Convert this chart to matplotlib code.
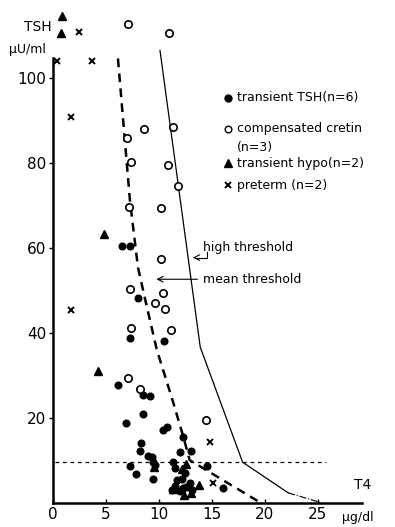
import matplotlib

matplotlib.use("Agg")
import matplotlib.pyplot as plt

# T4 (ug/dl), TSH (uU/ml)
trans_tsh_x = [6.5, 7.26, 8.0, 7.26, 10.5, 6.1, 8.5, 9.15, 8.5, 6.9, 10.4, 10.8, 12.3, 8.3,
               8.2, 12.0, 13.0, 9.3, 9.4, 7.3, 7.8, 9.4, 11.3, 11.5, 14.5, 11.2, 11.7, 12.2,
               11.5, 12.3, 12.0, 12.6, 12.9, 13.1, 12.5, 16.0, 9.0, 9.6]
trans_tsh_y = [60.5, 60.5, 48.4, 38.8, 38.2, 27.8, 25.5, 25.3, 20.9, 18.8, 17.1, 17.8, 15.5, 14.1,
               12.2, 12.0, 12.2, 10.8, 9.6, 8.7, 6.8, 5.6, 9.6, 8.2, 8.6, 3.1, 5.4, 5.6,
               4.0, 3.5, 2.8, 3.8, 4.7, 3.1, 7.0, 3.5, 11.0, 9.0]

cretin_x = [7.08, 10.97, 8.6, 11.3, 7.0, 7.35, 10.87, 11.8, 7.2, 10.2, 10.2, 7.26, 10.4, 9.6,
            10.6, 7.36, 11.1, 7.1, 8.2, 14.4]
cretin_y = [112.9, 110.6, 88.0, 88.5, 85.9, 80.4, 79.6, 74.6, 69.6, 69.4, 57.4, 50.4, 49.4, 47.0,
            45.6, 41.2, 40.7, 29.4, 26.8, 19.6]

hypo_x = [0.85, 0.75, 4.8, 4.25, 9.5, 12.6, 13.8, 13.0, 11.3, 12.4, 12.2]
hypo_y = [114.8, 110.6, 63.3, 31.0, 8.5, 9.2, 4.2, 2.4, 3.3, 1.9, 8.0]

preterm_x = [2.5, 0.4, 3.7, 1.7, 1.7, 14.8, 15.1]
preterm_y = [111.0, 104.2, 104.0, 90.8, 45.4, 14.4, 4.6]

mean_thr_x = [6.13, 7.26, 8.02, 8.87, 9.81, 11.2, 12.26, 12.9, 19.5]
mean_thr_y = [104.7, 71.3, 55.5, 46.1, 36.0, 24.9, 16.0, 10.1, 0.2]

high_thr_x = [10.1, 13.9, 17.9, 22.2]
high_thr_y = [106.6, 36.7, 9.6, 2.4]
high_tail_x = [22.2, 25.4]
high_tail_y = [2.4, 0.0]

cut_tsh = 9.7
yticks = [20, 40, 60, 80, 100]
xticks = [0, 5, 10, 15, 20, 25]

fig = plt.figure(figsize=(3.95, 5.27), dpi=100)
ax = fig.add_axes([53 / 395, 24 / 527, 339 / 395, 501 / 527])
ax.set_xlim(0, 32)
ax.set_ylim(0, 118)

ax.plot(mean_thr_x, mean_thr_y, color="black", lw=1.8, ls=(0, (3.5, 2.5)))
ax.plot(high_thr_x, high_thr_y, color="black", lw=0.9)
ax.plot(high_tail_x, high_tail_y, color="black", lw=0.8, ls="-.")
ax.plot([0.2, 25.8], [cut_tsh, cut_tsh], color="black", lw=0.9, ls=(0, (3, 3)))

ax.plot(trans_tsh_x, trans_tsh_y, "o", color="black", ms=4.8, clip_on=False)
ax.plot(cretin_x, cretin_y, "o", mfc="white", mec="black", mew=1.2, ms=5.3, clip_on=False)
ax.plot(hypo_x, hypo_y, "^", color="black", ms=5.3, clip_on=False)
ax.plot(preterm_x, preterm_y, "x", color="black", ms=3.8, mew=1.4, clip_on=False)

# legend drawn by hand like the original
leg_x, txt_x = 16.5, 17.4
ax.plot(leg_x, 95.5, "o", color="black", ms=5)
ax.text(txt_x, 95.5, "transient TSH(n=6)", fontsize=9, va="center")
ax.plot(leg_x, 88.2, "o", mfc="white", mec="black", ms=4.8)
ax.text(txt_x, 88.2, "compensated cretin", fontsize=9, va="center")
ax.text(txt_x, 83.8, "(n=3)", fontsize=9, va="center")
ax.plot(leg_x, 80.0, "^", color="black", ms=5.2)
ax.text(txt_x, 80.0, "transient hypo(n=2)", fontsize=9, va="center")
ax.plot(leg_x, 74.8, "x", color="black", ms=4, mew=1.4)
ax.text(txt_x, 74.8, "preterm (n=2)", fontsize=9, va="center")

ax.text(14.2, 60.2, "high threshold", fontsize=9, va="center")
ax.plot([14.55, 14.55, 13.4], [59.2, 57.8, 57.8], color="black", lw=0.8)
ax.annotate("", xy=(13.2, 57.8), xytext=(13.6, 57.8),
            arrowprops=dict(arrowstyle="->", color="black", lw=0.8))
ax.text(14.2, 52.7, "mean threshold", fontsize=9, va="center")
ax.annotate("", xy=(9.5, 52.7), xytext=(13.9, 52.7),
            arrowprops=dict(arrowstyle="->", color="black", lw=0.8))

ax.text(28.4, 2.6, "T4", fontsize=10, va="bottom")
ax.text(27.3, -3.4, "µg/dl", fontsize=9, va="center", clip_on=False)
fig.text(38 / 395, 1 - 27 / 527, "TSH", fontsize=10, ha="center", va="center")
fig.text(27 / 395, 1 - 50 / 527, "µU/ml", fontsize=9, ha="center", va="center")

for s in ("top", "right"):
    ax.spines[s].set_visible(False)
ax.spines["left"].set_bounds(0, 104.7)
ax.spines["bottom"].set_bounds(0, 29.2)
ax.spines["left"].set_linewidth(1.8)
ax.spines["bottom"].set_linewidth(1.8)

ax.set_yticks(yticks)
ax.set_xticks(xticks)
ax.tick_params(axis="y", direction="out", length=3, width=1, labelsize=11, pad=2)
ax.tick_params(axis="x", direction="in", length=3, width=1, labelsize=11, pad=3)

fig.savefig("out.png", dpi=100)
